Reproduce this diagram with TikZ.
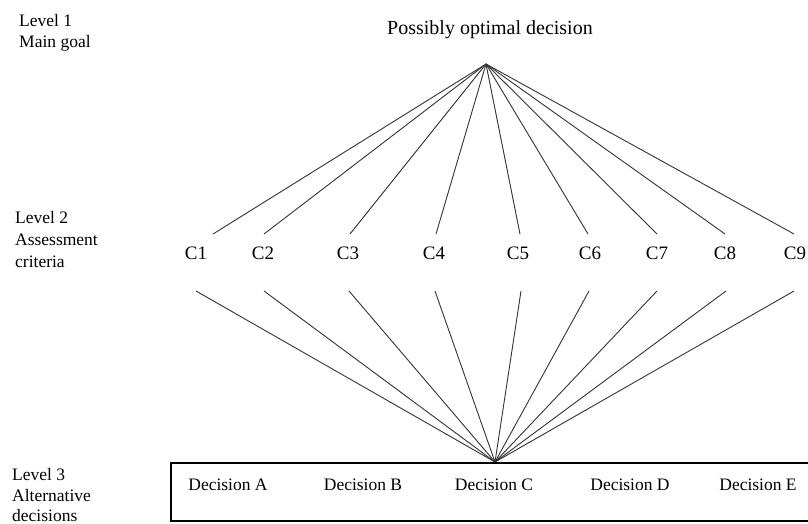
\documentclass[tikz,border=0pt]{standalone}
\usepackage{fontspec}
\setmainfont{Liberation Serif}
\begin{document}
\begin{tikzpicture}[x=1pt,y=-1pt,
  lvl/.style={anchor=base west,inner sep=0pt,font=\fontsize{17.5}{21}\selectfont},
  crit/.style={anchor=base,inner sep=0pt,font=\fontsize{19}{22}\selectfont},
  dec/.style={anchor=base,inner sep=0pt,font=\fontsize{17.5}{21}\selectfont},
  conn/.style={draw=black!80,line width=0.9pt}]
\useasboundingbox (0,0) rectangle (808,524);
\clip (0,0) rectangle (808,524);
% level labels
\node[lvl] (l1a) at (19,27) {Level 1};
\node[lvl] (l1b) at (19,48) {Main goal};
\node[lvl] (l2a) at (15,223) {Level 2};
\node[lvl] (l2b) at (15,245) {Assessment};
\node[lvl] (l2c) at (15,267) {criteria};
\node[lvl] (l3a) at (12,480) {Level 3};
\node[lvl] (l3b) at (12,501) {Alternative};
\node[lvl] (l3c) at (12,521.5) {decisions};
% title
\node[anchor=base,inner sep=0pt,font=\fontsize{20}{24}\selectfont] (goal) at (490,35) {Possibly optimal decision};
\coordinate (top) at (486,64);
\coordinate (bot) at (495,462);
% criteria
\foreach \n/\x/\tx/\bx in {1/196/213/196, 2/263/264/264, 3/348/350/349, 4/434/436/435, 5/518/520/521, 6/590/588/589, 7/657/657/657, 8/725/725/726, 9/795/794/794}{
  \node[crit] (c\n) at (\x,259) {C\n};
  \coordinate (c\n t) at (\tx,234);
  \coordinate (c\n b) at (\bx,291);
  \draw[conn] (top) -- (c\n t);
  \draw[conn] (c\n b) -- (bot);
}
% decisions box
\draw[line width=1.4pt] (171,463) rectangle (830,521);
\node[dec] (da) at (228,490) {Decision A};
\node[dec] (db) at (363,490) {Decision B};
\node[dec] (dc) at (494,490) {Decision C};
\node[dec] (dd) at (630,490) {Decision D};
\node[dec] (de) at (758,490) {Decision E};
\end{tikzpicture}
\end{document}
